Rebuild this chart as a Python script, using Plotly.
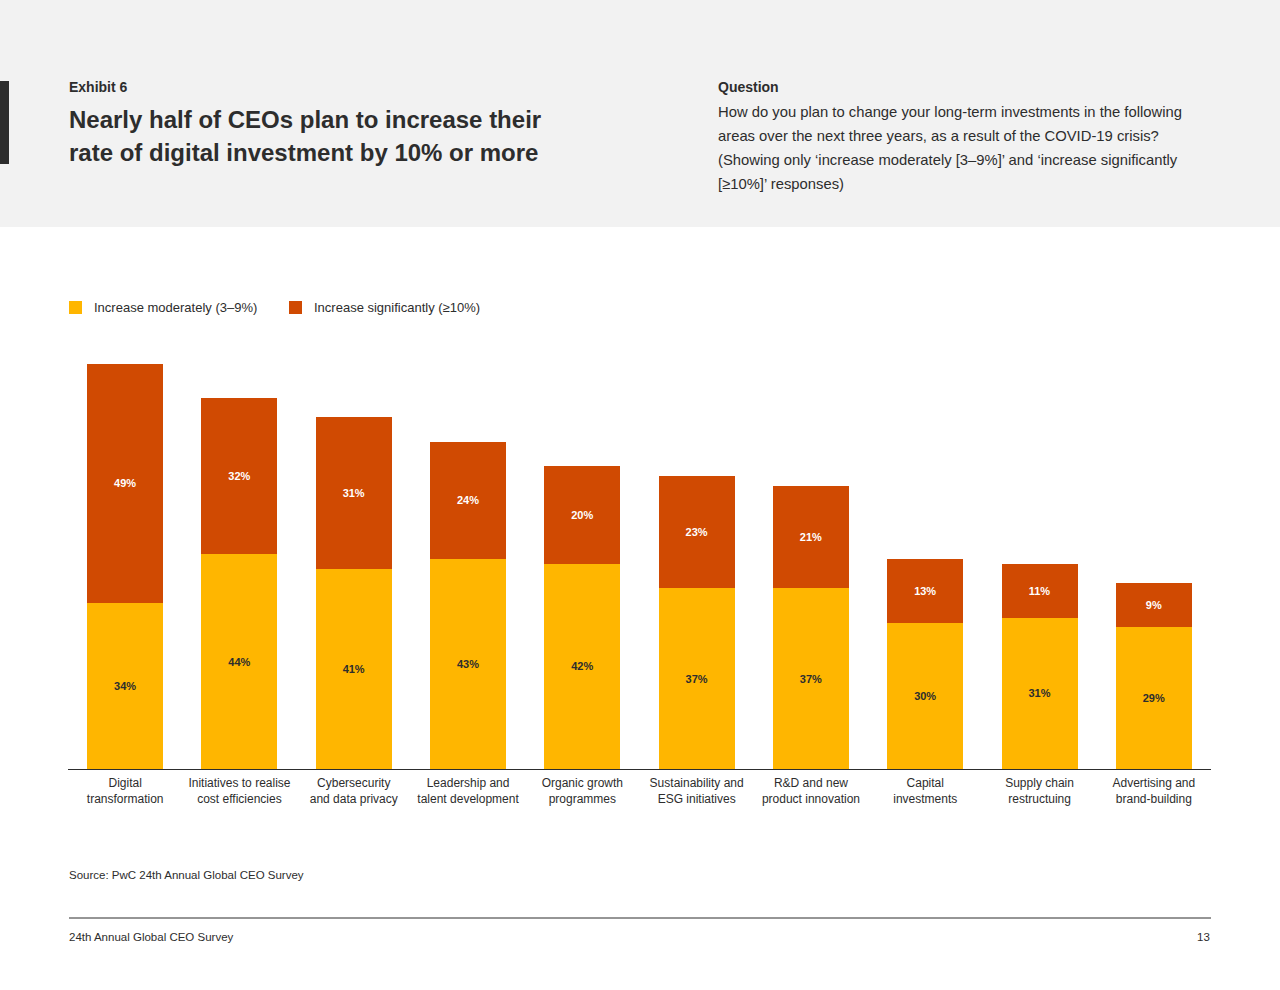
import plotly.graph_objects as go

# Data read from the exhibit
categories = [
    "Digital<br>transformation",
    "Initiatives to realise<br>cost efficiencies",
    "Cybersecurity<br>and data privacy",
    "Leadership and<br>talent development",
    "Organic growth<br>programmes",
    "Sustainability and<br>ESG initiatives",
    "R&D and new<br>product innovation",
    "Capital<br>investments",
    "Supply chain<br>restructuing",
    "Advertising and<br>brand-building",
]
moderately = [34, 44, 41, 43, 42, 37, 37, 30, 31, 29]
significantly = [49, 32, 31, 24, 20, 23, 21, 13, 11, 9]

series_names = ["Increase moderately (3–9%)", "Increase significantly (≥10%)"]
question_lines = [
    "How do you plan to change your long-term investments in the following",
    "areas over the next three years, as a result of the COVID-19 crisis?",
    "(Showing only ‘increase moderately [3–9%]’ and ‘increase significantly",
    "[≥10%]’ responses)",
]

YELLOW = "#FFB600"
ORANGE = "#D04A02"
DARK = "#2d2d2d"
FONT = "Liberation Sans, Arial, sans-serif"

W, H = 1280, 990
L, R, T, B = 68, 69, 354, 221
PLOT_W = W - L - R
PLOT_H = H - T - B


def px(x):
    """pixel x -> paper x"""
    return (x - L) / PLOT_W


def py(y):
    """pixel y (from top) -> paper y"""
    return (H - B - y) / PLOT_H


fig = go.Figure()

fig.add_trace(go.Bar(
    x=categories, y=moderately, name=series_names[0],
    marker=dict(color=YELLOW, line=dict(width=0)),
    text=[f"{v}%" for v in moderately],
    textposition="inside", insidetextanchor="middle",
    textfont=dict(family=FONT, size=11, color=DARK, weight="bold"),
    showlegend=False, hoverinfo="skip",
))
fig.add_trace(go.Bar(
    x=categories, y=significantly, name=series_names[1],
    marker=dict(color=ORANGE, line=dict(width=0)),
    text=[f"{v}%" for v in significantly],
    textposition="inside", insidetextanchor="middle",
    textfont=dict(family=FONT, size=11, color="white", weight="bold"),
    showlegend=False, hoverinfo="skip",
))

shapes = [
    # grey header band
    dict(type="rect", xref="paper", yref="paper", layer="below",
         x0=px(0), x1=px(W), y0=py(227), y1=py(0),
         fillcolor="#f2f2f2", line=dict(width=0)),
    # dark accent bar
    dict(type="rect", xref="paper", yref="paper",
         x0=px(0), x1=px(9), y0=py(164), y1=py(81),
         fillcolor=DARK, line=dict(width=0)),
    # legend swatches
    dict(type="rect", xref="paper", yref="paper",
         x0=px(69), x1=px(82), y0=py(314), y1=py(301),
         fillcolor=YELLOW, line=dict(width=0)),
    dict(type="rect", xref="paper", yref="paper",
         x0=px(289), x1=px(302), y0=py(314), y1=py(301),
         fillcolor=ORANGE, line=dict(width=0)),
    # footer rule
    dict(type="line", xref="paper", yref="paper",
         x0=px(69), x1=px(1211), y0=py(918), y1=py(918),
         line=dict(color=DARK, width=1)),
]


def note(text, x, y, size, bold=False, anchor="left", color=DARK):
    # annotations carry ~2px of padding, so nudge left-anchored text back
    shift = -2 if anchor == "left" else 2
    return dict(
        text=text, xref="paper", yref="paper", x=px(x + shift), y=py(y),
        xanchor=anchor, yanchor="middle", showarrow=False,
        font=dict(family=FONT, size=size, color=color,
                  weight="bold" if bold else "normal"),
    )


annotations = [
    note("Exhibit 6", 69, 87, 14, bold=True),
    note("Nearly half of CEOs plan to increase their", 69, 120, 24, bold=True),
    note("rate of digital investment by 10% or more", 69, 152, 24, bold=True),
    note("Question", 718, 87, 14, bold=True),
    note(series_names[0], 94, 307, 13),
    note(series_names[1], 314, 307, 13),
    note("Source: PwC 24th Annual Global CEO Survey", 69, 875, 11.5),
    note("24th Annual Global CEO Survey", 69, 937, 11.5),
    note("13", 1210, 937, 11.5, anchor="right"),
]
for i, line in enumerate(question_lines):
    annotations.append(note(line, 718, 112 + 24 * i, 14.8))

fig.update_layout(
    width=W, height=H,
    margin=dict(l=L, r=R, t=T, b=B, pad=0),
    barmode="stack", bargap=0.335,
    paper_bgcolor="white", plot_bgcolor="white",
    font=dict(family=FONT, color=DARK),
    xaxis=dict(
        showgrid=False, showline=True, linecolor=DARK, linewidth=1,
        ticks="", ticklabelstandoff=3,
        tickfont=dict(family=FONT, size=12, color=DARK),
        fixedrange=True,
    ),
    yaxis=dict(
        range=[0, 85], visible=False, showgrid=False, zeroline=False,
        fixedrange=True,
    ),
    shapes=shapes,
    annotations=annotations,
)

# drop the browser's default body margin so the page starts at 0,0
fig.write_html(
    "out.html",
    config={"displayModeBar": False},
    post_script="document.body.style.margin='0';",
)
